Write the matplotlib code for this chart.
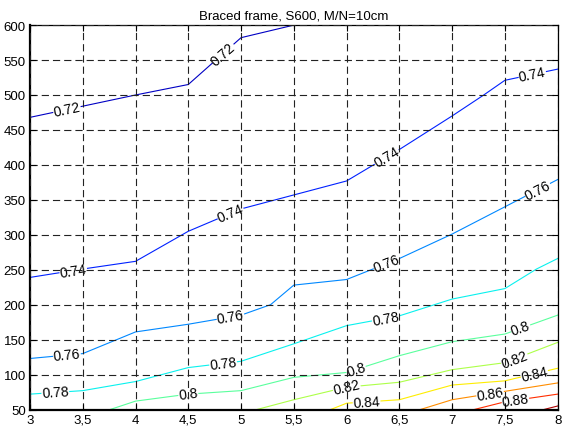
import numpy as np
import matplotlib.pyplot as plt

plt.rcParams['font.family'] = ['Liberation Sans', 'DejaVu Sans']

# contour levels and their polylines (x = first value, y = second value)
levels = [0.72, 0.74, 0.76, 0.78, 0.80, 0.82, 0.84, 0.86, 0.88, 0.90]

x_072 = [3, 3.5, 4, 4.5, 5, 5.5]
y_072 = [468, 484, 500, 515, 582, 600]

x_074 = [3, 3.5, 4, 4.5, 5, 5.5, 6, 6.5, 7, 7.3, 7.5, 8]
y_074 = [239, 251, 262, 305, 337, 357, 377, 422, 470, 500, 521, 537]

x_076 = [3, 3.5, 4, 4.5, 5, 5.28, 5.5, 6, 6.5, 7, 7.5, 8]
y_076 = [123, 130, 161, 172, 185, 200, 228, 236, 266, 301, 340, 379]

x_078 = [3, 3.5, 4, 4.5, 5, 5.5, 6, 6.5, 7, 7.5, 7.8, 8]
y_078 = [72, 77, 90, 110, 119, 144, 170, 184, 208, 223, 251, 266]

x_080 = [3.76, 4, 4.5, 5, 5.5, 6, 6.5, 7, 7.5, 8]
y_080 = [50, 62, 72, 77, 96, 103, 127, 147, 158, 185]

x_082 = [5.15, 5.5, 6, 6.5, 7, 7.5, 8]
y_082 = [50, 64, 82, 89, 107, 117, 146]

x_084 = [5.85, 6, 6.5, 7, 7.5, 8]
y_084 = [50, 59, 64, 85, 91, 109]

x_086 = [6.7, 7, 7.5, 8]
y_086 = [50, 64, 76, 88]

x_088 = [7.21, 7.5, 8]
y_088 = [50, 61, 72]

x_090 = [7.87, 8]
y_090 = [50, 55]

lines_x = [x_072, x_074, x_076, x_078, x_080, x_082, x_084, x_086, x_088, x_090]
lines_y = [y_072, y_074, y_076, y_078, y_080, y_082, y_084, y_086, y_088, y_090]

# x positions of the inline labels, per level
label_x = [
    [3.35, 4.83],
    [3.41, 4.9, 6.38, 7.76],
    [3.35, 4.9, 6.38, 7.81],
    [3.24, 4.83, 6.37],
    [4.5, 6.09, 7.65],
    [6.0, 7.59],
    [6.19, 7.78],
    [7.36],
    [7.6],
    [],
]

xticks = [3, 3.5, 4, 4.5, 5, 5.5, 6, 6.5, 7, 7.5, 8]
xtick_labels = ['3', '3,5', '4', '4,5', '5', '5,5', '6', '6,5', '7', '7,5', '8']
yticks = [50, 100, 150, 200, 250, 300, 350, 400, 450, 500, 550, 600]

fig = plt.figure(figsize=(5.69, 4.35), dpi=100)
ax = fig.add_axes([0.0527, 0.0563, 0.9273, 0.8837])
ax.set_xlim(3, 8)
ax.set_ylim(50, 600)

cmap = plt.get_cmap('jet')

def lvl_color(v):
    return cmap((v - 0.708) / 0.2)

for lv, xs, ys in zip(levels, lines_x, lines_y):
    ax.plot(xs, ys, color=lvl_color(lv), lw=0.8, zorder=1.5)

for lv, xs, ys, lxs in zip(levels, lines_x, lines_y, label_x):
    xs = np.asarray(xs, float)
    ys = np.asarray(ys, float)
    pts = ax.transData.transform(np.column_stack([xs, ys]))
    for lx in lxs:
        ly = np.interp(lx, xs, ys)
        i = min(max(np.searchsorted(xs, lx) - 1, 0), len(xs) - 2)
        dx, dy = pts[i + 1] - pts[i]
        ang = np.degrees(np.arctan2(dy, dx))
        txt = ('%.2f' % lv).rstrip('0')
        ax.text(lx, ly, txt, fontsize=10, ha='center', va='center',
                rotation=ang, rotation_mode='anchor', zorder=2,
                bbox=dict(facecolor='white', edgecolor='none', pad=0.3))

ax.set_xticks(xticks)
ax.set_xticklabels(xtick_labels)
ax.set_yticks(yticks)
ax.tick_params(direction='in', length=4, width=0.8, labelsize=9.5, pad=3,
               top=True, right=True)
ax.grid(True, color='#222222', linestyle=(0, (6.5, 3.6)), linewidth=0.8)
ax.set_axisbelow(False)
for side in ['left', 'bottom']:
    ax.spines[side].set_linewidth(1.6)
for side in ['top', 'right']:
    ax.spines[side].set_linewidth(0.9)

ax.set_title('Braced frame, S600, M/N=10cm', fontsize=9.5, pad=5)

fig.savefig('out.png', dpi=100)
